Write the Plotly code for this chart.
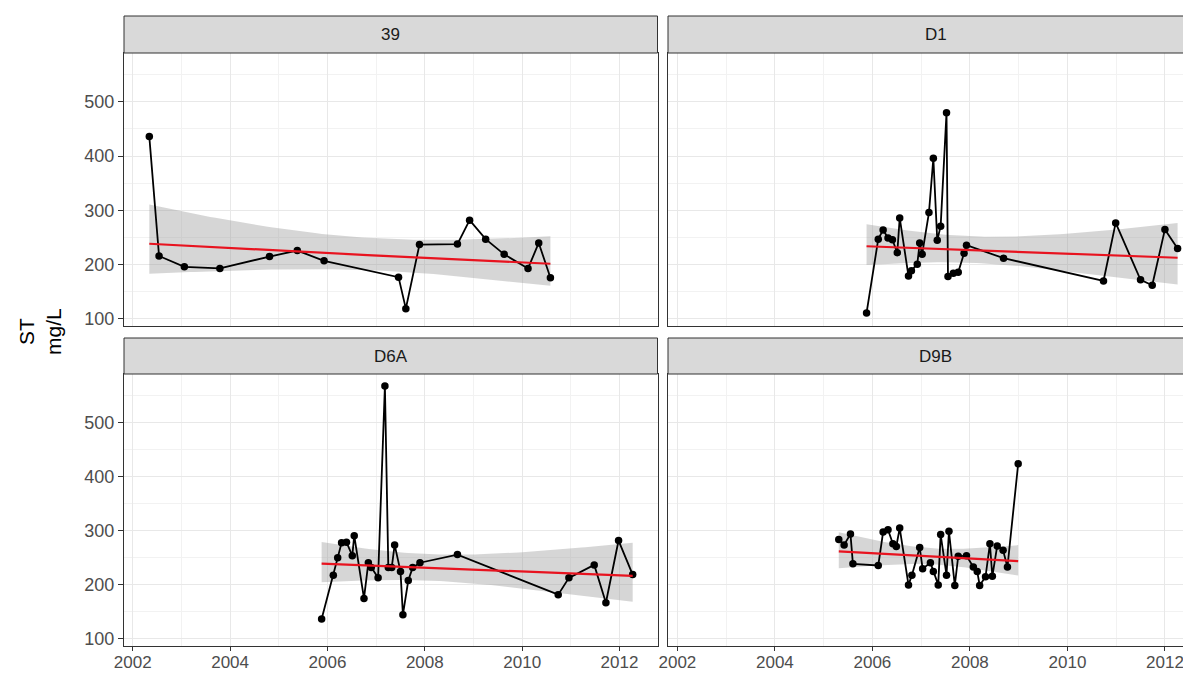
import numpy as np
import plotly.graph_objects as go

# ---------------- data (decimal years, ST in mg/L) ----------------
sites = ["39", "D1", "D6A", "D9B"]

x_39 = [2002.34, 2002.54, 2003.06, 2003.79, 2004.81, 2005.38, 2005.93, 2007.46, 2007.61,
        2007.89, 2008.67, 2008.92, 2009.25, 2009.63, 2010.12, 2010.34, 2010.58]
y_39 = [436, 216, 196, 193, 215, 226, 207, 177, 119, 237, 238, 282, 247, 219, 193, 240, 176]

x_D1 = [2005.88, 2006.12, 2006.22, 2006.32, 2006.41, 2006.51, 2006.56, 2006.74, 2006.80,
        2006.92, 2006.97, 2007.02, 2007.16, 2007.25, 2007.33, 2007.40, 2007.52, 2007.55,
        2007.66, 2007.76, 2007.88, 2007.93, 2008.69, 2010.74, 2010.99, 2011.50, 2011.74,
        2012.00, 2012.26]
y_D1 = [111, 247, 264, 249, 246, 222, 286, 179, 189, 201, 240, 219, 296, 396, 245, 271, 480,
        178, 184, 186, 221, 236, 212, 170, 277, 172, 162, 265, 230]

x_D6A = [2005.88, 2006.12, 2006.21, 2006.29, 2006.39, 2006.51, 2006.55, 2006.75, 2006.84,
         2006.90, 2007.04, 2007.18, 2007.25, 2007.32, 2007.38, 2007.50, 2007.55, 2007.66,
         2007.75, 2007.90, 2008.67, 2010.74, 2010.96, 2011.48, 2011.72, 2011.98, 2012.27]
y_D6A = [137, 218, 250, 278, 279, 254, 291, 175, 241, 232, 213, 568, 232, 232, 274, 225, 145,
         208, 232, 241, 256, 182, 213, 237, 167, 282, 219]

x_D9B = [2005.31, 2005.42, 2005.55, 2005.60, 2006.12, 2006.22, 2006.32, 2006.42, 2006.49,
         2006.56, 2006.74, 2006.81, 2006.97, 2007.03, 2007.19, 2007.25, 2007.35, 2007.40,
         2007.52, 2007.57, 2007.69, 2007.76, 2007.93, 2008.07, 2008.15, 2008.20, 2008.32,
         2008.41, 2008.46, 2008.56, 2008.68, 2008.77, 2008.99]
y_D9B = [284, 274, 294, 239, 236, 298, 302, 276, 271, 305, 200, 218, 269, 230, 241, 225, 200,
         293, 218, 299, 199, 253, 254, 233, 225, 199, 215, 276, 216, 272, 264, 233, 424]

x_ticks = [2002, 2004, 2006, 2008, 2010, 2012]
x_minor = [2003, 2005, 2007, 2009, 2011]
y_ticks = [100, 200, 300, 400, 500]
y_minor = [150, 250, 350, 450, 550]
y_title = "ST<br>mg/L"

series = {"39": (x_39, y_39), "D1": (x_D1, y_D1), "D6A": (x_D6A, y_D6A), "D9B": (x_D9B, y_D9B)}

# ---------------- helpers ----------------
def t_quant(df, z=1.959964):
    g1 = (z**3 + z) / 4
    g2 = (5 * z**5 + 16 * z**3 + 3 * z) / 96
    g3 = (3 * z**7 + 19 * z**5 + 17 * z**3 - 15 * z) / 384
    return z + g1 / df + g2 / df**2 + g3 / df**3


def trend_band(x, y, n=80):
    """Linear trend fitted on log(ST), back-transformed, with 95% band."""
    x = np.asarray(x, float)
    ly = np.log(np.asarray(y, float))
    b, a = np.polyfit(x, ly, 1)
    res = ly - (a + b * x)
    dof = len(x) - 2
    s = np.sqrt(np.sum(res**2) / dof)
    xm = x.mean()
    sxx = np.sum((x - xm) ** 2)
    g = np.linspace(x.min(), x.max(), n)
    fit = a + b * g
    se = s * np.sqrt(1 / len(x) + (g - xm) ** 2 / sxx)
    t = t_quant(dof)
    return g, np.exp(fit), np.exp(fit - t * se), np.exp(fit + t * se)


# ---------------- layout geometry (page pixels; page body has an 8px margin) ----------------
OFF = 8
W, H = 1191 - OFF, 675 - OFF
def px(v): return (v - OFF) / W
def py(v): return 1 - (v - OFF) / H

col_x = {0: (124, 657.5), 1: (668, 1191)}
row_y = {0: (53, 326), 1: (374, 646)}
strip_y = {0: (16, 53), 1: (338, 374)}
x_ranges = {0: [2001.82, 2012.78], 1: [2001.807, 2012.535]}
y_range = [87, 590]

GRID = "#E8E8E8"
MINOR = "#F2F2F2"
BORDER = "#333333"
FONT = "Liberation Sans, Arial, sans-serif"

fig = go.Figure()
shapes = []
annotations = []

for i, site in enumerate(sites):
    r, c = divmod(i, 2)
    ax = "" if i == 0 else str(i + 1)
    xs, ys = series[site]
    g, fit, lo, hi = trend_band(xs, ys)

    fig.add_trace(go.Scatter(
        x=np.concatenate([g, g[::-1]]), y=np.concatenate([hi, lo[::-1]]),
        fill="toself", fillcolor="rgba(153,153,153,0.4)", line=dict(width=0),
        hoverinfo="skip", showlegend=False, xaxis="x" + ax, yaxis="y" + ax))
    fig.add_trace(go.Scatter(
        x=xs, y=ys, mode="lines+markers",
        line=dict(color="black", width=1.8),
        marker=dict(color="black", size=7.5),
        showlegend=False, xaxis="x" + ax, yaxis="y" + ax))
    fig.add_trace(go.Scatter(
        x=g, y=fit, mode="lines", line=dict(color="#E8131F", width=2.2),
        showlegend=False, xaxis="x" + ax, yaxis="y" + ax))

    x0, x1 = col_x[c]
    y0, y1 = row_y[r]
    bottom_row = r == 1
    left_col = c == 0

    fig.layout["xaxis" + ax] = dict(
        domain=[px(x0), min(px(x1), 1.0)], anchor="y" + ax, range=x_ranges[c],
        tickvals=x_ticks, ticktext=[str(v) for v in x_ticks],
        ticks="outside" if bottom_row else "", ticklen=4, tickwidth=1, tickcolor=BORDER,
        showticklabels=bottom_row, ticklabelstandoff=-3,
        tickfont=dict(family=FONT, size=17, color="#4D4D4D"),
        showgrid=True, gridcolor=GRID, gridwidth=1.2,
        minor=dict(tickvals=x_minor, showgrid=True, gridcolor=MINOR, gridwidth=0.7, ticks=""),
        showline=True, linecolor=BORDER, linewidth=1, mirror=True,
        zeroline=False, fixedrange=True, automargin=False)
    fig.layout["yaxis" + ax] = dict(
        domain=[py(y1), py(y0)], anchor="x" + ax, range=y_range,
        tickvals=y_ticks, ticktext=[str(v) for v in y_ticks],
        ticks="outside" if left_col else "", ticklen=5, tickwidth=1, tickcolor=BORDER,
        showticklabels=left_col,
        tickfont=dict(family=FONT, size=18, color="#4D4D4D"),
        showgrid=True, gridcolor=GRID, gridwidth=1.2,
        minor=dict(tickvals=y_minor, showgrid=True, gridcolor=MINOR, gridwidth=0.7, ticks=""),
        showline=True, linecolor=BORDER, linewidth=1, mirror=left_col,
        zeroline=False, fixedrange=True, automargin=False)

    sy0, sy1 = strip_y[r]
    sx1 = x1 if c == 0 else 1203
    shapes.append(dict(type="rect", xref="paper", yref="paper",
                       x0=px(x0), x1=px(sx1), y0=py(sy1), y1=py(sy0),
                       fillcolor="#D9D9D9", line=dict(color=BORDER, width=1), layer="above"))
    annotations.append(dict(text=site, xref="paper", yref="paper",
                            x=px((x0 + sx1) / 2), y=py((sy0 + sy1) / 2),
                            showarrow=False, xanchor="center", yanchor="middle",
                            font=dict(family=FONT, size=17, color="#1A1A1A")))

annotations.append(dict(text=y_title, xref="paper", yref="paper",
                        x=px(40), y=py(331), textangle=-90, showarrow=False,
                        xanchor="center", yanchor="middle",
                        font=dict(family=FONT, size=21, color="black")))

fig.update_layout(
    width=W, height=H, margin=dict(l=0, r=0, t=0, b=0, autoexpand=False),
    paper_bgcolor="white", plot_bgcolor="white",
    shapes=shapes, annotations=annotations, showlegend=False)

fig.write_html("out.html")
